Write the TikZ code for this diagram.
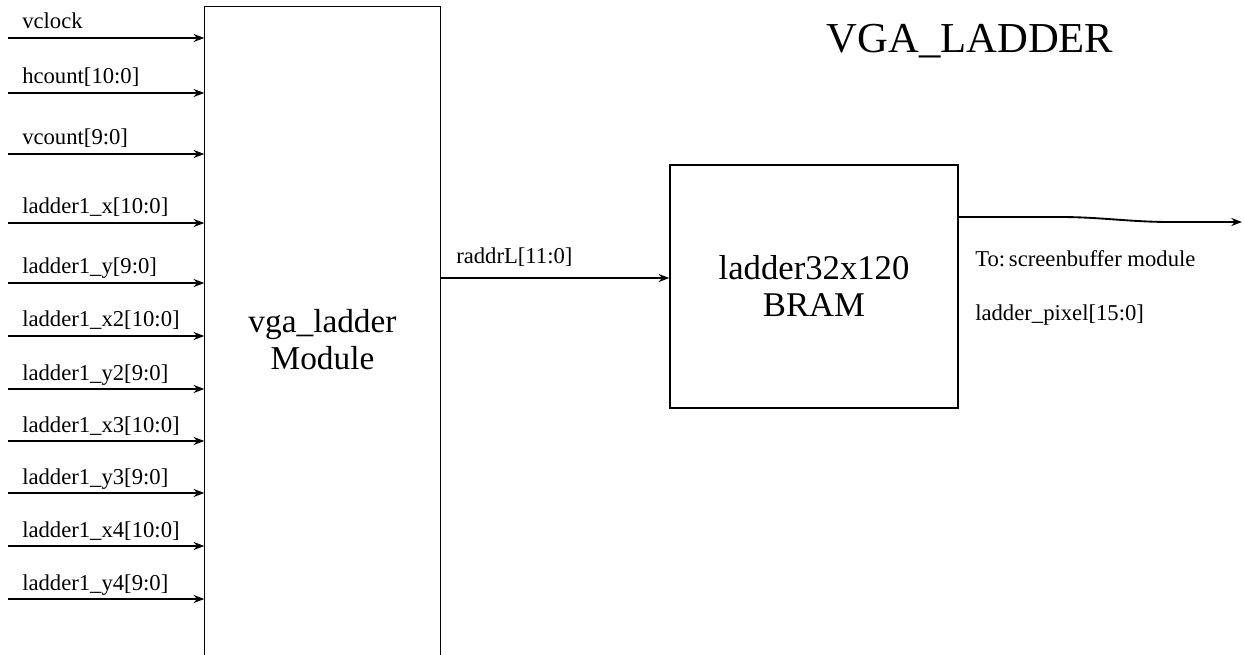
\documentclass[tikz,border=0pt]{standalone}
\usepackage{fontspec}
\setmainfont{Liberation Serif}
\usetikzlibrary{arrows.meta, positioning, calc}

\begin{document}
\begin{tikzpicture}[
    x=0.75pt, y=-0.75pt,
    >={Stealth[length=8pt, width=6pt]},
    block/.style={draw=black, line width=1.1pt, inner sep=0pt,
                  align=center, font=\fontsize{25}{27.75}\selectfont},
    sig/.style={->, line width=1.4pt},
    siglabel/.style={anchor=base west, inner sep=0pt,
                     font=\fontsize{17}{20}\selectfont}
  ]
  \useasboundingbox (0,0) rectangle (1244,655);

  % module box, open at the bottom
  \node[block, draw=none, minimum width=235*0.75pt, minimum height=648*0.75pt,
        label={[align=center, yshift=-6.75pt,
                font=\fontsize{25}{27.75}\selectfont]center:vga\_ladder\\Module}]
    (mod) at (322.5,331) {};
  \draw[line width=1.1pt] (mod.south west) -- (mod.north west)
    -- (mod.north east) -- (mod.south east);

  \node[block, minimum width=288*0.75pt, minimum height=243*0.75pt,
        font=\fontsize{26}{27.75}\selectfont]
    (bram) at (814,286.5) {ladder32x120\\BRAM};

  \node[anchor=base, font=\fontsize{32}{36}\selectfont] (title) at (970,53) {VGA\_LADDER};

  % inputs
  \foreach \y/\lbl [count=\i] in {38/vclock, 93/hcount[10:0], 154/vcount[9:0],
      223/ladder1\_x[10:0], 283/ladder1\_y[9:0], 336/ladder1\_x2[10:0],
      389/ladder1\_y2[9:0], 441/ladder1\_x3[10:0], 493/ladder1\_y3[9:0],
      546/ladder1\_x4[10:0], 599/ladder1\_y4[9:0]} {
    \coordinate (in\i) at (8,\y);
    \draw[sig] (in\i) -- (in\i -| mod.west);
    \node[siglabel] (lbl\i) at (22,\y-9) {\lbl};
  }

  % address
  \coordinate (addr) at (440,278);
  \draw[sig] (addr) -- (addr -| bram.west);
  \node[siglabel] (addrlbl) at (456,264) {raddrL[11:0]};

  % output
  \coordinate (outs) at (958,217);
  \coordinate (oute) at (1242,222);
  \draw[sig] (outs) -- (1060,217) .. controls (1100,217) and (1130,222) .. (1170,222) -- (oute);
  \node[siglabel] (tolbl) at (975,267) {To:\,screenbuffer module};
  \node[siglabel] (pixlbl) at (975,321) {ladder\_pixel[15:0]};
\end{tikzpicture}
\end{document}
